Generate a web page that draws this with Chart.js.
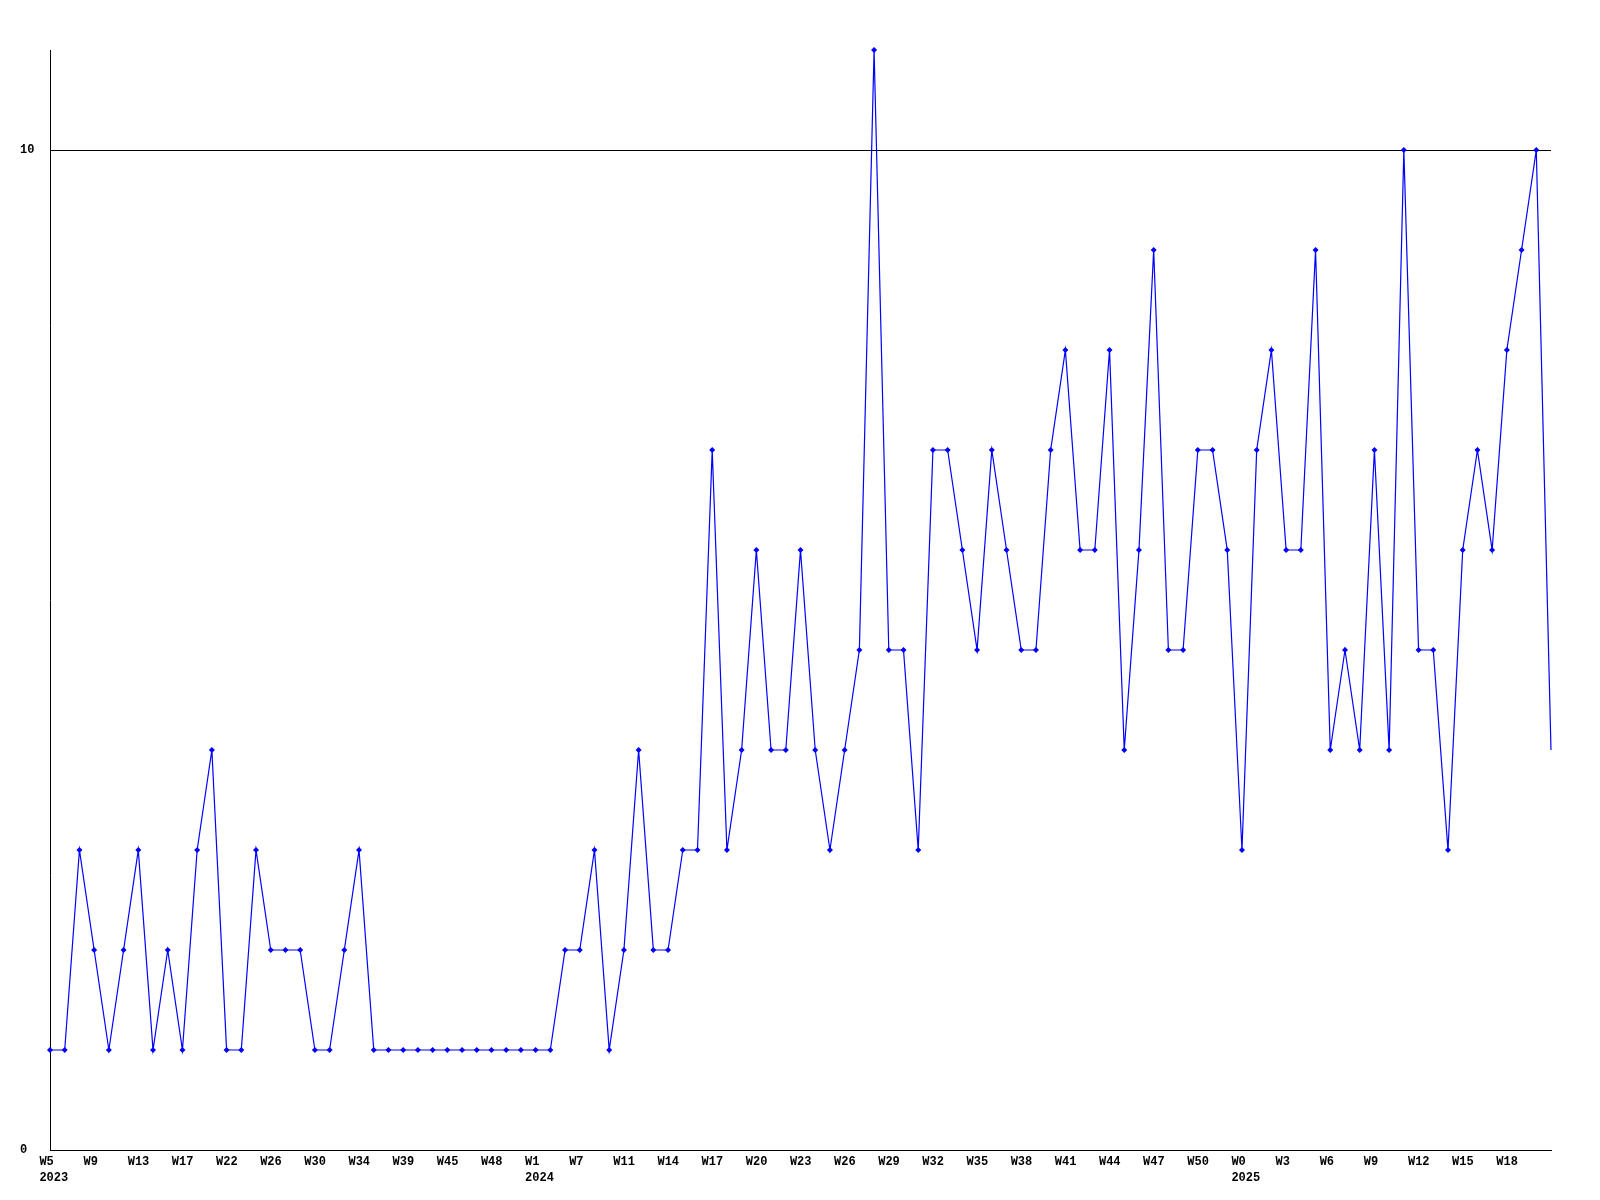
<!DOCTYPE html>
<html>
<head>
<meta charset="utf-8">
<script src="https://cdn.jsdelivr.net/npm/chart.js@4/dist/chart.umd.min.js"></script>
<style>
  html, body { margin: 0; padding: 0; background: #fff; }
  #wrap { width: 1600px; height: 1200px; }
</style>
</head>
<body>
<div id="wrap"><canvas id="weeklyChart" width="1600" height="1200"></canvas></div>
<script>
// Weekly counts, one value per point (2023 W5 .. 2025 W20)
const weeklyValues = [
  1, 1, 3, 2, 1, 2, 3, 1, 2, 1,
  3, 4, 1, 1, 3, 2, 2, 2, 1, 1,
  2, 3, 1, 1, 1, 1, 1, 1, 1, 1,
  1, 1, 1, 1, 1, 2, 2, 3, 1, 2,
  4, 2, 2, 3, 3, 7, 3, 4, 6, 4,
  4, 6, 4, 3, 4, 5, 11, 5, 5, 3,
  7, 7, 6, 5, 7, 6, 5, 5, 7, 8,
  6, 6, 8, 4, 6, 9, 5, 5, 7, 7,
  6, 3, 7, 8, 6, 6, 9, 4, 5, 4,
  7, 4, 10, 5, 5, 3, 6, 7, 6, 8,
  9, 10, 4
];

// x tick labels, one every 3 points
const weekTickLabels = [
  "W5", "W9", "W13", "W17", "W22", "W26", "W30", "W34", "W39", "W45", "W48",
  "W1", "W7", "W11", "W14", "W17", "W20", "W23", "W26", "W29", "W32", "W35",
  "W38", "W41", "W44", "W47", "W50",
  "W0", "W3", "W6", "W9", "W12", "W15", "W18"
];
const yearLabels = ["2023", "2024", "2025"];
const yearTickIndex = [0, 11, 27];

const yTickValues = [0, 10];

const TICK_EVERY = 3;
const LABEL_SHIFT = 0.72; // labels start a little left of their point

const points = weeklyValues.map((v, i) => ({ x: i, y: v }));
const lastIndex = weeklyValues.length - 1;
const monoFont = { family: "'Liberation Mono', 'DejaVu Sans Mono', monospace", size: 12, weight: "bold", lineHeight: 16 / 12 };

const ctx = document.getElementById("weeklyChart").getContext("2d");
new Chart(ctx, {
  type: "line",
  data: {
    datasets: [{
      data: points,
      borderColor: "#0000ff",
      backgroundColor: "#0000ff",
      borderWidth: 1.2,
      tension: 0,
      fill: false,
      clip: false,
      pointStyle: "rectRot",
      pointRadius: (c) => (c.dataIndex === lastIndex ? 0 : 3),
      pointBorderWidth: 0,
      pointHoverRadius: 0
    }]
  },
  options: {
    responsive: false,
    animation: false,
    events: [],
    layout: { padding: { top: 50, left: 20, right: 49, bottom: 0 } },
    plugins: { legend: { display: false }, tooltip: { enabled: false } },
    scales: {
      x: {
        type: "linear",
        min: 0,
        max: lastIndex,
        afterBuildTicks: (scale) => {
          scale.ticks = weekTickLabels.map((_, k) => ({ value: k * TICK_EVERY - LABEL_SHIFT }));
        },
        afterFit: (scale) => { scale.height = 50; },
        grid: { display: false, drawTicks: false },
        border: { display: true, color: "#000", width: 1 },
        ticks: {
          autoSkip: false,
          maxRotation: 0,
          minRotation: 0,
          align: "start",
          padding: 4,
          color: "#000",
          font: monoFont,
          callback: function (value, index) {
            const y = yearTickIndex.indexOf(index);
            return y >= 0 ? [weekTickLabels[index], yearLabels[y]] : weekTickLabels[index];
          }
        }
      },
      y: {
        min: 0,
        max: 11,
        afterBuildTicks: (scale) => {
          scale.ticks = yTickValues.map((v) => ({ value: v }));
        },
        afterFit: (scale) => { scale.width = 30; },
        grid: { color: "#000", lineWidth: 1, drawTicks: false },
        border: { display: true, color: "#000", width: 1 },
        ticks: {
          crossAlign: "far",
          color: "#000",
          font: monoFont,
          callback: (v) => String(v)
        }
      }
    }
  }
});
</script>
</body>
</html>
